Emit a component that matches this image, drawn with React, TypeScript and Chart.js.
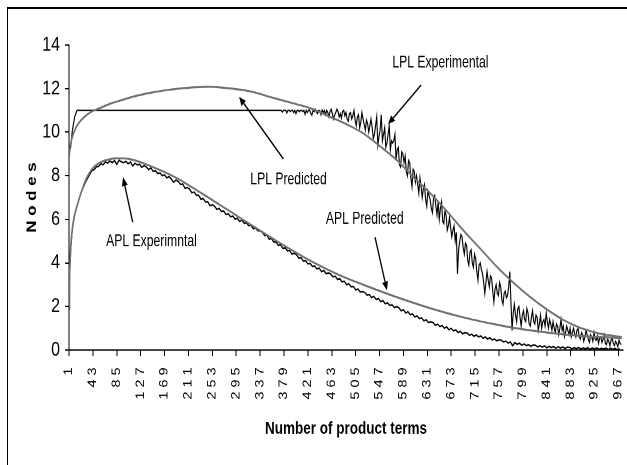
import { useEffect, useRef } from 'react';
import { Chart, registerables } from 'chart.js';

Chart.register(...registerables);

// x-axis tick labels (category numbers)
const xTickValues = [1, 43, 85, 127, 169, 211, 253, 295, 337, 379, 421, 463, 505, 547, 589, 631, 673, 715, 757, 799, 841, 883, 925, 967];

// LPL Predicted (smooth)
const lplPredX = [1, 2, 6, 13, 24, 38, 55, 73, 91, 117, 143, 170, 196, 223, 249, 275, 302, 328, 354, 390, 425, 460, 490, 518, 548, 578, 606, 636, 666, 694, 724, 754, 782, 812, 842, 870, 900, 930, 952, 973];
const lplPredY = [8.7, 9.1, 9.7, 10.2, 10.6, 10.9, 11.1, 11.3, 11.45, 11.65, 11.8, 11.92, 12.0, 12.06, 12.08, 12.03, 11.95, 11.82, 11.62, 11.36, 11.1, 10.7, 10.35, 9.95, 9.35, 8.7, 7.95, 7.2, 6.35, 5.5, 4.65, 3.8, 3.1, 2.43, 1.85, 1.38, 1.02, 0.78, 0.67, 0.6];

// APL Predicted (smooth)
const aplPredX = [1, 2, 4, 8, 15, 24, 33, 43, 55, 73, 85, 108, 131, 161, 191, 219, 249, 279, 307, 337, 367, 395, 425, 455, 478, 520, 578, 636, 694, 754, 782, 842, 900, 973];
const aplPredY = [1.9, 3.4, 4.7, 5.8, 6.6, 7.35, 7.95, 8.35, 8.6, 8.76, 8.8, 8.76, 8.58, 8.26, 7.88, 7.44, 6.95, 6.45, 5.98, 5.48, 4.99, 4.55, 4.1, 3.7, 3.42, 2.98, 2.42, 1.92, 1.5, 1.16, 1.02, 0.8, 0.65, 0.55];

// LPL Experimental: start and flat part
const lplExpHeadX = [1, 4, 7, 11, 15, 370];
const lplExpHeadY = [9.0, 9.3, 10.1, 10.7, 11.0, 11.0];
// LPL Experimental: noisy part, every 2nd term from 372
const lplExpBodyStart = 372;
const lplExpBodyStep = 2;
const lplExpBodyY = [
  11.0, 11.0, 10.92, 11.0, 11.0, 11.0, 10.88, 11.0, 11.0, 10.95, 11.0, 11.0, 10.9, 11.0, 10.85, 11.0, 11.0, 10.94, 11.0, 11.0,
  10.95, 11.0, 10.82, 11.0, 10.9, 11.0, 11.02, 10.86, 10.78, 11.0, 10.95, 11.05, 10.92, 10.85, 11.0, 10.98, 10.8, 11.02, 10.9, 11.0,
  10.8, 11.0, 10.9, 10.7, 10.95, 11.05, 10.85, 10.6, 10.78, 10.9, 11.05, 10.95, 10.7, 10.85, 10.65, 10.95, 11.0, 10.75, 10.9, 10.6,
  10.5, 10.85, 10.9, 10.6, 10.75, 11.0, 10.55, 10.3, 10.7, 10.8, 10.2, 10.45, 10.9, 10.6, 10.35, 10.1, 10.55, 10.4, 10.0, 10.3,
  10.6, 10.2, 9.7, 9.9, 10.3, 10.7, 9.4, 9.8, 10.1, 10.8, 9.6, 9.9, 10.2, 9.3, 9.5, 9.9, 10.3, 9.2, 9.6, 9.5,
  9.6, 9.9, 8.7, 9.2, 9.3, 8.5, 8.4, 9.1, 9.0, 8.6, 8.9, 8.2, 8.0, 8.7, 8.6, 7.9, 7.5, 8.3, 8.2, 7.7,
  8.0, 7.6, 7.2, 7.9, 7.5, 7.0, 7.4, 7.6, 6.9, 6.6, 7.3, 7.1, 6.9, 6.5, 6.3, 7.0, 7.1, 6.6, 6.2, 6.8,
  6.0, 6.5, 6.8, 5.9, 5.8, 6.4, 6.2, 5.5, 5.7, 6.1, 5.6, 5.2, 5.5, 5.7, 5.0, 5.4, 3.5, 4.6, 5.0, 5.3,
  5.2, 4.7, 4.4, 4.9, 4.8, 4.1, 3.9, 4.5, 4.6, 4.0, 3.8, 4.4, 4.2, 3.6, 3.2, 3.9, 4.0, 3.7, 3.5, 3.1,
  2.6, 3.1, 3.6, 3.2, 2.9, 3.4, 3.3, 2.7, 2.2, 2.8, 3.0, 2.6, 2.5, 3.1, 2.9, 2.3, 2.1, 2.6, 2.7, 2.4,
  2.5, 2.9, 3.6, 2.2, 0.9, 1.7, 2.1, 1.6, 1.3, 1.9, 2.0, 1.5, 1.1, 1.6, 1.8, 1.4, 1.3, 1.9, 1.7, 1.2,
  1.1, 1.5, 1.8, 1.3, 1.2, 1.6, 1.5, 0.9, 1.2, 1.6, 1.0, 1.3, 1.4, 1.1, 1.7, 1.3, 1.0, 1.4, 1.2, 0.9,
  1.3, 1.0, 0.8, 1.2, 1.1, 0.7, 1.0, 1.4, 0.9, 1.1, 0.6, 0.8, 1.1, 0.9, 0.7, 1.0, 0.6, 0.8, 1.0, 0.75,
  0.6, 0.9, 1.0, 0.6, 0.5, 0.8, 0.7, 0.4, 0.6, 0.9, 0.7, 0.5, 0.35, 0.7, 0.6, 0.4, 0.8, 0.5, 0.45, 0.65,
  0.3, 0.55, 0.6, 0.35, 0.5, 0.7, 0.3, 0.25, 0.5, 0.4, 0.2, 0.45, 0.55, 0.3, 0.2, 0.4, 0.3, 0.15, 0.45, 0.3,
  0.25,
];

// APL Experimental: steep start
const aplExpHeadX = [1, 2, 4, 6, 8, 11, 15, 20, 25, 30, 35];
const aplExpHeadY = [1.9, 3.3, 4.6, 5.3, 5.75, 6.2, 6.6, 7.05, 7.4, 7.7, 7.95];
// APL Experimental: every 4th term from 41
const aplExpBodyStart = 41;
const aplExpBodyStep = 4;
const aplExpBodyY = [
  8.22, 8.28, 8.4, 8.43, 8.55, 8.5, 8.63, 8.58, 8.68, 8.6, 8.7, 8.52, 8.71, 8.64, 8.6,
  8.66, 8.55, 8.63, 8.45, 8.57, 8.5, 8.53, 8.38, 8.47, 8.4, 8.28, 8.36, 8.2, 8.23, 8.1,
  8.13, 8.0, 8.04, 7.9, 7.96, 7.84, 7.7, 7.8, 7.74, 7.6, 7.62, 7.42, 7.46, 7.38, 7.22,
  7.25, 7.1, 7.1, 6.92, 6.95, 6.8, 6.8, 6.62, 6.67, 6.6, 6.45, 6.5, 6.36, 6.38, 6.22,
  6.25, 6.12, 6.15, 6.0, 6.05, 5.9, 5.96, 5.82, 5.84, 5.7, 5.72, 5.56, 5.6, 5.47, 5.47,
  5.4, 5.25, 5.26, 5.08, 5.12, 4.95, 4.96, 4.8, 4.84, 4.66, 4.7, 4.55, 4.57, 4.4, 4.44,
  4.37, 4.22, 4.24, 4.08, 4.1, 3.95, 3.97, 3.84, 3.86, 3.72, 3.76, 3.6, 3.65, 3.5, 3.54,
  3.49, 3.36, 3.39, 3.24, 3.28, 3.13, 3.16, 3.0, 3.04, 2.9, 2.92, 2.76, 2.8, 2.66, 2.68,
  2.64, 2.52, 2.55, 2.4, 2.46, 2.32, 2.36, 2.22, 2.27, 2.12, 2.17, 2.04, 2.08, 1.94, 1.99,
  1.94, 1.8, 1.85, 1.7, 1.76, 1.62, 1.66, 1.52, 1.57, 1.44, 1.48, 1.34, 1.39, 1.26, 1.29,
  1.26, 1.14, 1.19, 1.08, 1.12, 1.0, 1.06, 0.93, 0.99, 0.88, 0.92, 0.8, 0.86, 0.74, 0.8,
  0.78, 0.68, 0.73, 0.63, 0.69, 0.6, 0.65, 0.54, 0.6, 0.5, 0.56, 0.46, 0.51, 0.42, 0.47,
  0.45, 0.37, 0.41, 0.32, 0.37, 0.2, 0.34, 0.26, 0.31, 0.22, 0.28, 0.2, 0.25, 0.17, 0.23,
  0.22, 0.14, 0.2, 0.13, 0.19, 0.1, 0.17, 0.11, 0.16, 0.08, 0.15, 0.09, 0.14, 0.07, 0.13,
  0.12, 0.05, 0.11, 0.06, 0.12, 0.04, 0.1, 0.05, 0.11, 0.03, 0.09, 0.05, 0.1, 0.03, 0.08,
  0.04, 0.09, 0.02, 0.08, 0.03, 0.07, 0.02, 0.06,
];

// Annotations (in data units)
const noteTexts = ['LPL Experimental', 'LPL Predicted', 'APL Predicted', 'APL Experimntal'];
const noteX = [654, 387, 521, 146];
const noteY = [12.96, 7.59, 5.8, 4.76];
const arrowFromX = [620, 378, 539, 113];
const arrowFromY = [12.16, 8.77, 5.18, 5.87];
const arrowToX = [562, 300, 560, 96];
const arrowToY = [10.37, 11.62, 2.74, 7.93];

const FONT = "'Liberation Sans', Arial, sans-serif";

const pts = (xs: number[], ys: number[]) => xs.map((v, i) => ({ x: v, y: ys[i] }));
const terms = (start: number, step: number, n: number) => Array.from({ length: n }, (_, i) => start + i * step);

const notesPlugin = {
  id: 'notes',
  afterDatasetsDraw(chart: any) {
    const { ctx } = chart;
    const xs = chart.scales.x;
    const ys = chart.scales.y;
    ctx.save();
    ctx.fillStyle = '#000';
    ctx.strokeStyle = '#000';
    ctx.font = `14px ${FONT}`;
    ctx.textAlign = 'center';
    ctx.textBaseline = 'alphabetic';
    noteTexts.forEach((t, i) => {
      const px = xs.getPixelForValue(noteX[i]);
      const py = ys.getPixelForValue(noteY[i]);
      ctx.save();
      ctx.translate(px, py);
      ctx.scale(0.87, 1);
      ctx.fillText(t, 0, 0);
      ctx.restore();

      const x0 = xs.getPixelForValue(arrowFromX[i]);
      const y0 = ys.getPixelForValue(arrowFromY[i]);
      const x1 = xs.getPixelForValue(arrowToX[i]);
      const y1 = ys.getPixelForValue(arrowToY[i]);
      const ang = Math.atan2(y1 - y0, x1 - x0);
      const head = 7;
      const half = 3;
      const bx = x1 - head * Math.cos(ang);
      const by = y1 - head * Math.sin(ang);
      ctx.lineWidth = 1.3;
      ctx.beginPath();
      ctx.moveTo(x0, y0);
      ctx.lineTo(bx, by);
      ctx.stroke();
      ctx.beginPath();
      ctx.moveTo(x1, y1);
      ctx.lineTo(bx + half * Math.sin(ang), by - half * Math.cos(ang));
      ctx.lineTo(bx - half * Math.sin(ang), by + half * Math.cos(ang));
      ctx.closePath();
      ctx.fill();
    });
    ctx.restore();
  },
};

export default function App() {
  const ref = useRef<HTMLCanvasElement | null>(null);

  useEffect(() => {
    if (!ref.current) return;
    const lplExp = [
      ...pts(lplExpHeadX, lplExpHeadY),
      ...pts(terms(lplExpBodyStart, lplExpBodyStep, lplExpBodyY.length), lplExpBodyY),
    ];
    const aplExp = [
      ...pts(aplExpHeadX, aplExpHeadY),
      ...pts(terms(aplExpBodyStart, aplExpBodyStep, aplExpBodyY.length), aplExpBodyY),
    ];
    const chart = new Chart(ref.current, {
      type: 'line',
      data: {
        datasets: [
          {
            label: 'LPL Predicted',
            data: pts(lplPredX, lplPredY),
            borderColor: '#707070',
            borderWidth: 1.6,
            cubicInterpolationMode: 'monotone',
            pointRadius: 0,
            order: 0,
          },
          {
            label: 'APL Predicted',
            data: pts(aplPredX, aplPredY),
            borderColor: '#707070',
            borderWidth: 1.6,
            cubicInterpolationMode: 'monotone',
            pointRadius: 0,
            order: 0,
          },
          {
            label: 'LPL Experimental',
            data: lplExp,
            borderColor: '#000',
            borderWidth: 1.1,
            tension: 0,
            pointRadius: 0,
            order: 1,
          },
          {
            label: 'APL Experimental',
            data: aplExp,
            borderColor: '#000',
            borderWidth: 1.2,
            tension: 0,
            pointRadius: 0,
            order: 1,
          },
        ],
      } as any,
      options: {
        animation: false,
        responsive: false,
        devicePixelRatio: 2,
        layout: { padding: { left: 0, right: 4, top: 36, bottom: 0 } },
        plugins: { legend: { display: false }, tooltip: { enabled: false } },
        font: { family: FONT },
        scales: {
          x: {
            type: 'linear',
            min: 1,
            max: 975,
            afterBuildTicks: (s: any) => {
              s.ticks = xTickValues.map((v) => ({ value: v }));
            },
            afterFit: (s: any) => {
              s.height = 92;
              s.paddingLeft = 0;
              s.paddingRight = 0;
            },
            ticks: {
              autoSkip: false,
              maxRotation: 90,
              minRotation: 90,
              padding: 9,
              color: '#000',
              font: { family: FONT, size: 11.5 },
              callback: (v: any) => String(v).split('').join(' '),
            },
            grid: { display: true, drawOnChartArea: false, drawTicks: true, tickLength: 5, color: '#000', lineWidth: 1 },
            border: { display: true, color: '#000', width: 1 },
            title: {
              display: true,
              text: 'Number of product terms',
              color: '#000',
              font: { family: FONT, size: 13.5, weight: 'bold' },
              padding: { top: 0, bottom: 20.7 },
            },
          },
          y: {
            min: 0,
            max: 14,
            afterFit: (s: any) => {
              s.width = 69;
            },
            ticks: { stepSize: 2, padding: 5, color: '#000', font: { family: FONT, size: 16 } },
            grid: { display: true, drawOnChartArea: false, drawTicks: true, tickLength: 4, color: '#000', lineWidth: 1 },
            border: { display: true, color: '#000', width: 1 },
            title: {
              display: true,
              text: 'N o d e s',
              color: '#000',
              font: { family: FONT, size: 13.5, weight: 'bold' },
              padding: { top: 24, bottom: 0 },
            },
          },
        },
      } as any,
      plugins: [notesPlugin],
    });
    return () => chart.destroy();
  }, []);

  return (
    <div style={{ position: 'fixed', left: 0, top: 0, width: 627, height: 465, overflow: 'hidden', background: '#fff' }}>
      <div
        style={{
          position: 'absolute',
          left: 7,
          top: 7,
          width: 700,
          height: 500,
          borderLeft: '1.5px solid #000',
          borderTop: '2px solid #000',
          boxSizing: 'border-box',
        }}
      />
      <div style={{ position: 'absolute', left: 0, top: 0, width: 627, height: 372, transform: 'scaleY(1.25)', transformOrigin: '0 0' }}>
        <canvas ref={ref} width={627} height={372} style={{ display: 'block', width: 627, height: 372 }} />
      </div>
    </div>
  );
}
